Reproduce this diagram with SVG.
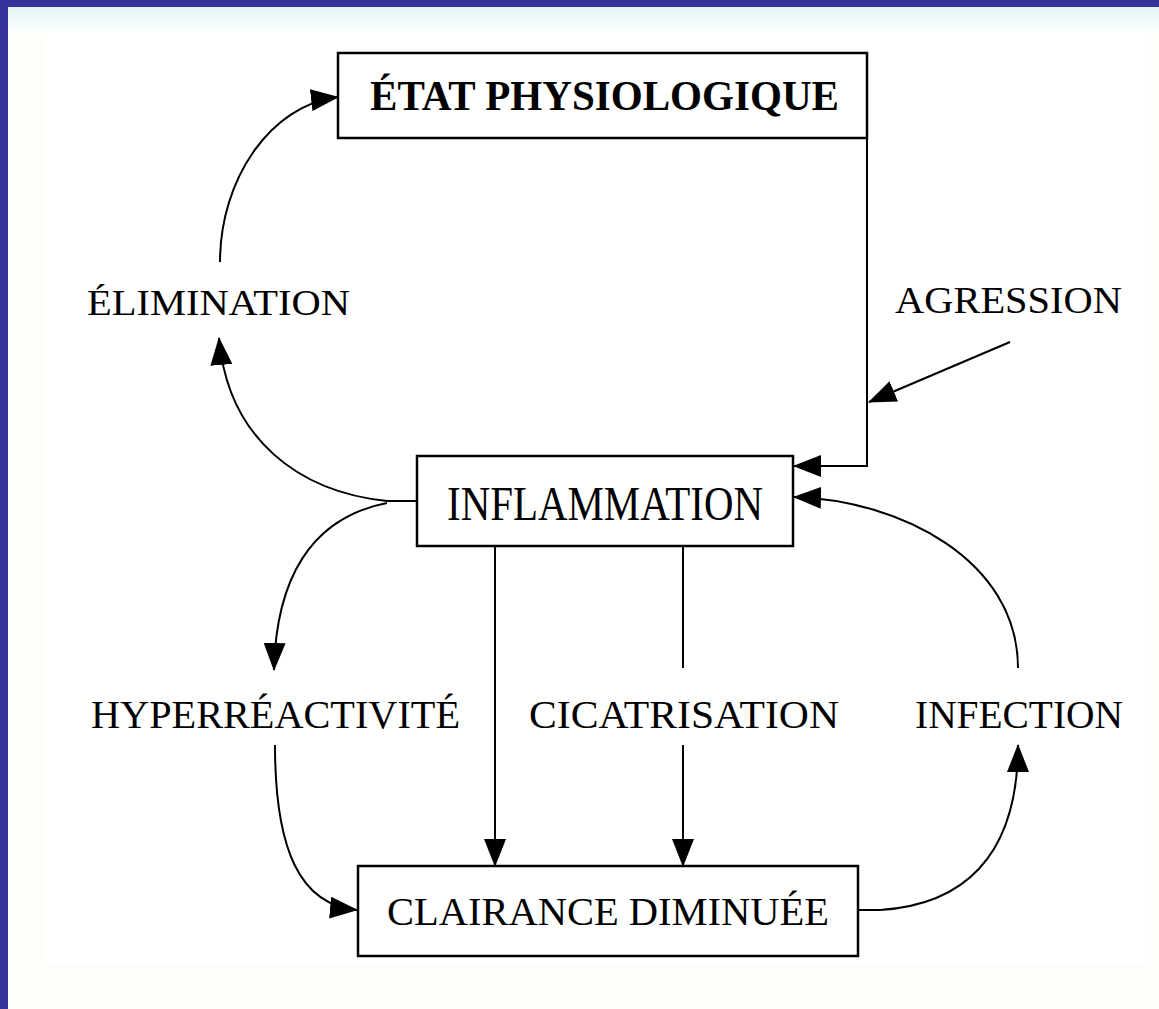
<svg xmlns="http://www.w3.org/2000/svg" width="1159" height="1009" viewBox="0 0 1159 1009">
  <defs>
    <linearGradient id="topband" x1="0" y1="0" x2="0" y2="1">
      <stop offset="0" stop-color="#e4f4f4"/>
      <stop offset="1" stop-color="#ffffff"/>
    </linearGradient>
    <marker id="arr" viewBox="0 0 28 22" refX="27" refY="11" markerWidth="28" markerHeight="22" markerUnits="userSpaceOnUse" orient="auto">
      <path d="M0,0 L28,11 L0,22 Z" fill="#000"/>
    </marker>
    <style>
      .box { fill: #fff; stroke: #000; stroke-width: 2.5; }
      .lbl { font-family: "Liberation Serif", "Times New Roman", serif; fill: #000; }
      .conn { fill: none; stroke: #000; stroke-width: 2; }
    </style>
  </defs>

  <!-- background -->
  <rect x="0" y="0" width="1159" height="1009" fill="#fdfdf9"/>
  <rect x="45" y="33" width="1105" height="932" fill="#ffffff"/>
  <rect x="8" y="7" width="1151" height="27" fill="url(#topband)"/>
  <rect x="0" y="0" width="1159" height="7" fill="#35339a"/>
  <rect x="0" y="0" width="8" height="1009" fill="#35339a"/>

  <g id="connectors">
    <path class="conn" d="M417,501 L387,501"/>
    <path class="conn" d="M387,501 C 300,492 228,440 219,338" marker-end="url(#arr)"/>
    <path class="conn" d="M387,503 C 310,518 276,580 274,670" marker-end="url(#arr)"/>
    <path class="conn" d="M220,262 C 220,180 270,105 338,97" marker-end="url(#arr)"/>
    <path class="conn" d="M867,138 L867,466 L794,466" marker-end="url(#arr)"/>
    <path class="conn" d="M1010,342 L869,402" marker-end="url(#arr)"/>
    <path class="conn" d="M1018,668 C 1018,560 900,500 794,497" marker-end="url(#arr)"/>
    <path class="conn" d="M495,546 L495,866" marker-end="url(#arr)"/>
    <path class="conn" d="M683,546 L683,668"/>
    <path class="conn" d="M683,745 L683,866" marker-end="url(#arr)"/>
    <path class="conn" d="M275,745 C 275,850 300,905 357,910" marker-end="url(#arr)"/>
    <path class="conn" d="M858,910 L880,910 C 960,905 1018,860 1018,745" marker-end="url(#arr)"/>
  </g>

  <g id="etat">
    <rect class="box" x="338" y="53" width="529" height="85"/>
    <text class="lbl" x="370" y="110" font-size="42" font-weight="bold" textLength="469" lengthAdjust="spacingAndGlyphs">ÉTAT PHYSIOLOGIQUE</text>
  </g>

  <g id="inflammation">
    <rect class="box" x="417" y="456" width="376" height="90"/>
    <text class="lbl" x="447" y="520" font-size="48" textLength="316" lengthAdjust="spacingAndGlyphs">INFLAMMATION</text>
  </g>

  <g id="clairance">
    <rect class="box" x="358" y="866" width="500" height="90"/>
    <text class="lbl" x="387" y="925" font-size="40" textLength="442" lengthAdjust="spacingAndGlyphs">CLAIRANCE DIMINUÉE</text>
  </g>

  <g id="elimination">
    <text class="lbl" x="87" y="315" font-size="36" textLength="263" lengthAdjust="spacingAndGlyphs">ÉLIMINATION</text>
  </g>

  <g id="agression">
    <text class="lbl" x="895" y="313" font-size="37" textLength="227" lengthAdjust="spacingAndGlyphs">AGRESSION</text>
  </g>

  <g id="hyperreactivite">
    <text class="lbl" x="91" y="728" font-size="40" textLength="369" lengthAdjust="spacingAndGlyphs">HYPERRÉACTIVITÉ</text>
  </g>

  <g id="cicatrisation">
    <text class="lbl" x="529" y="728" font-size="40" textLength="310" lengthAdjust="spacingAndGlyphs">CICATRISATION</text>
  </g>

  <g id="infection">
    <text class="lbl" x="915" y="728" font-size="40" textLength="208" lengthAdjust="spacingAndGlyphs">INFECTION</text>
  </g>
</svg>
